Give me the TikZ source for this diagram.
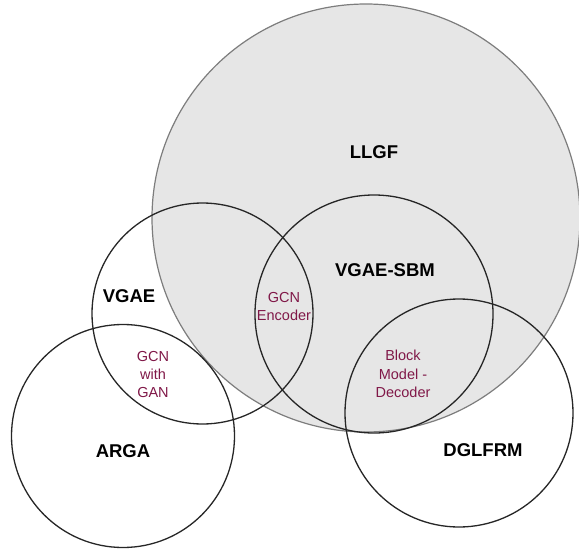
\documentclass[tikz,border=0pt]{standalone}
\usepackage{fontspec}
\setmainfont{Liberation Sans}
\definecolor{llgfgray}{RGB}{230,230,230}
\definecolor{llgfline}{RGB}{125,125,125}
\definecolor{sharedtxt}{RGB}{128,24,72}
\begin{document}
\begin{tikzpicture}[x=1pt,y=-1pt,
  ring/.style={circle,draw=black!85,line width=1.3pt,inner sep=0pt},
  bigring/.style={circle,draw=llgfline,fill=llgfgray,line width=1.2pt,inner sep=0pt},
  setlabel/.style={font=\fontsize{18.5}{22}\selectfont\bfseries,text=black},
  sharelabel/.style={font=\fontsize{14.5}{18.3}\selectfont,text=sharedtxt,align=center}]
\useasboundingbox (0,0) rectangle (579,552);
\node[bigring,minimum size=428pt] (llgf) at (366,218) {};
\node[ring,minimum size=221pt] (vgae) at (202.5,313.5) {};
\node[ring,minimum size=238pt] (vgaesbm) at (374,314) {};
\node[ring,minimum size=223pt] (arga) at (123,436) {};
\node[ring,minimum size=228pt] (dglfrm) at (459,413) {};
\node[setlabel] (tllgf) at (374,152) {LLGF};
\node[setlabel] (tvgae) at (129,296) {VGAE};
\node[setlabel] (tsbm) at (385,270) {VGAE-SBM};
\node[setlabel] (targa) at (123,451) {ARGA};
\node[setlabel] (tdgl) at (483,450) {DGLFRM};
\node[sharelabel] (enc) at (284,306.5) {GCN\\Encoder};
\node[sharelabel] (gan) at (153,374.5) {GCN\\with\\GAN};
\node[sharelabel] (dec) at (403,374) {Block\\Model -\\Decoder};
\end{tikzpicture}
\end{document}
